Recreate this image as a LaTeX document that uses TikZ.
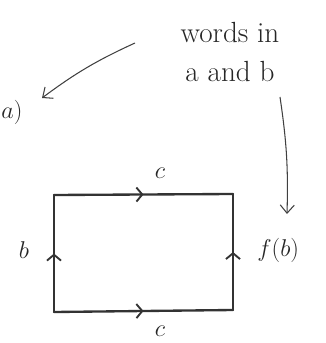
\documentclass[tikz,border=0pt]{standalone}
\usepackage{amsmath,amssymb}
\usepackage{tikz}
\usetikzlibrary{arrows.meta,decorations.markings}

\begin{document}
\begin{tikzpicture}[
        x=0.03cm, y=-0.03cm,
        side/.style={draw=black!80, line width=2pt, line cap=round, line join=round,
            postaction={decorate},
            decoration={markings, mark=at position 0.5 with {\arrow[line width=1.6pt]{Straight Barb[length=5pt, width=12pt]}}}},
        pointer/.style={draw=black!75, line width=0.9pt, -{Straight Barb[length=7pt, width=12pt]}},
        lbl/.style={font=\huge, text=black!85, inner sep=1pt},
        note/.style={font=\Huge, text=black!85, align=center, inner sep=1pt}
    ]
        \useasboundingbox (0,0) rectangle (325,343);

        \coordinate (tl) at (54,195);
        \coordinate (tr) at (233,194);
        \coordinate (br) at (233,310);
        \coordinate (bl) at (54,312);

        \draw[side] (tl) -- (tr);
        \draw[side] (bl) -- (br);
        \draw[side] (bl) -- (tl);
        \draw[side] (br) -- (tr);

        \node[lbl] (ctop) at (160,173) {$c$};
        \node[lbl] (cbot) at (160,331) {$c$};
        \node[lbl] (b) at (24,250) {$b$};
        \node[lbl, anchor=west] (fb) at (256,250) {$f(b)$};
        \node[lbl, anchor=west] (fa) at (0,112) {$a)$};

        \node[note] (words) at (230,52) {words in\\[4pt]a and b};

        \coordinate (wfrom) at (135,43);
        \coordinate (wto) at (42,98);
        \coordinate (bfrom) at (280,97);
        \coordinate (bto) at (287,214);

        \draw[pointer] (wfrom) to[bend right=6] (wto);
        \draw[pointer] (bfrom) to[bend left=5] (bto);
    \end{tikzpicture}
\end{document}
